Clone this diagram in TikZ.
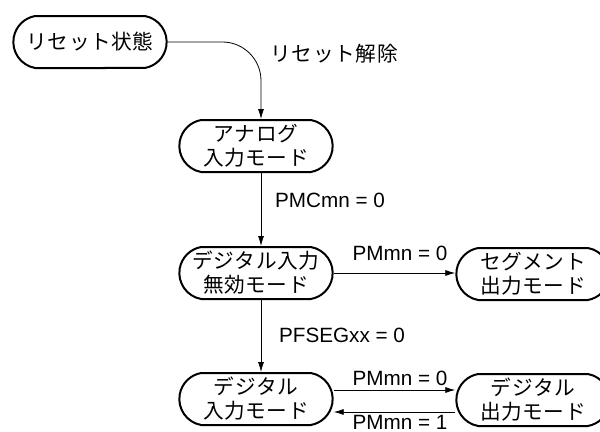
\documentclass[tikz,border=0pt]{standalone}
\usepackage{fontspec}
\setmainfont{Liberation Sans}
\newfontfamily\jpfont[LetterSpace=3]{Noto Sans CJK JP}
\usepackage{tikz}
\usetikzlibrary{shapes.misc,arrows.meta}

\tikzset{
  mode/.style={rounded rectangle, rounded rectangle arc length=160, draw, line width=1.5pt,
    minimum width=117pt, minimum height=39pt, inner sep=1pt, align=center,
    font=\jpfont\fontsize{15.5}{18}\selectfont},
  trans/.style={line width=0.6pt, -{Latex[length=7.5pt,width=4.5pt]}},
  cond/.style={inner sep=1pt, font=\fontsize{15.5}{18}\selectfont},
  jpcond/.style={font=\jpfont\fontsize{15.5}{18}\selectfont},
}

\begin{document}
\begin{tikzpicture}[x=0.75pt, y=-0.75pt]
  \useasboundingbox (0,0) rectangle (600,432);

  % States
  \node[mode] (reset) at (90,42) {リセット状態};
  \node[mode] (analog) at (256,146) {アナログ\\入力モード};
  \node[mode] (dis) at (256,273) {デジタル入力\\無効モード};
  \node[mode] (seg) at (533,274) {セグメント\\出力モード};
  \node[mode] (din) at (256,399) {デジタル\\入力モード};
  \node[mode] (dout) at (533,400) {デジタル\\出力モード};

  % Transitions
  \draw[trans, rounded corners=29pt] (reset.east) -| ([xshift=3.75pt]analog.north);
  \draw[trans] ([xshift=3.75pt]analog.south) -- ([xshift=3.75pt]dis.north);
  \draw[trans] (dis.east) -- (dis.east -| seg.west);
  \draw[trans] ([xshift=3.75pt]dis.south) -- ([xshift=3.75pt]din.north);
  \draw[trans] ([yshift=6.75pt]din.east) -- ([yshift=6.75pt]din.east -| dout.west);
  \draw[trans] ([yshift=-9pt]dout.west) -- ([yshift=-9pt]dout.west -| din.east);

  % Conditions
  \node[jpcond, anchor=west] (lrel) at (266,54) {リセット解除};
  \node[cond] (lpmc) at (330,200) {PMCmn = 0};
  \node[cond] (lseg) at (400,253) {PMmn = 0};
  \node[cond] (lpfs) at (342,335) {PFSEGxx = 0};
  \node[cond] (lout) at (400,378) {PMmn = 0};
  \node[cond] (lin) at (400,422) {PMmn = 1};
\end{tikzpicture}
\end{document}
